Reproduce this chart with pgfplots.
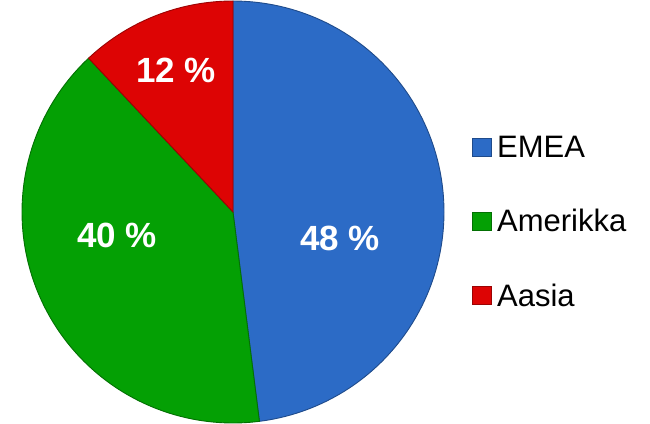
\documentclass[border=0pt]{standalone}
\usepackage{fontspec}
\setmainfont{Liberation Sans}
\usepackage{pgfplots}
\usepackage{pgfplotstable}
\pgfplotsset{compat=1.18}
\definecolor{cBlue}{HTML}{2C6BC6}
\definecolor{cGreen}{HTML}{04A004}
\definecolor{cRed}{HTML}{DD0404}
\pgfplotstableread{
region share
EMEA 48
Amerikka 40
Aasia 12
}\piedata
\begin{document}
\begin{tikzpicture}
\pgfplotstablegetelem{0}{share}\of\piedata \let\sA\pgfplotsretval
\pgfplotstablegetelem{1}{share}\of\piedata \let\sB\pgfplotsretval
\pgfplotstablegetelem{2}{share}\of\piedata \let\sC\pgfplotsretval
\pgfmathsetmacro{\aA}{90}
\pgfmathsetmacro{\aB}{\aA-3.6*\sA}
\pgfmathsetmacro{\aC}{\aB-3.6*\sB}
\pgfmathsetmacro{\aD}{\aC-3.6*\sC}
\begin{axis}[
  scale only axis, width=650pt, height=423pt,
  xmin=0, xmax=650, ymin=0, ymax=423,
  hide axis, clip=true,
  legend style={draw=none, fill=none, at={(axis cs:469,201)}, anchor=west,
    font=\fontsize{31}{31}\selectfont, row sep=46.5pt,
    legend cell align=left,
    nodes={inner xsep=5pt}},
  legend image code/.code={\fill[#1] (0pt,-9pt) rectangle (19pt,9pt);},
]
\addplot[fill=cBlue, draw=cBlue!70!black, line width=0.9pt, domain=\aB:\aA, samples=120, variable=\t]
  ({233+211*cos(\t)},{211+211*sin(\t)}) -- (axis cs:233,211) -- cycle;
\addlegendentry{EMEA}
\addplot[fill=cGreen, draw=cGreen!70!black, line width=0.9pt, domain=\aC:\aB, samples=120, variable=\t]
  ({233+211*cos(\t)},{211+211*sin(\t)}) -- (axis cs:233,211) -- cycle;
\addlegendentry{Amerikka}
\addplot[fill=cRed, draw=cRed!70!black, line width=0.9pt, domain=\aD:\aC, samples=60, variable=\t]
  ({233+211*cos(\t)},{211+211*sin(\t)}) -- (axis cs:233,211) -- cycle;
\addlegendentry{Aasia}
\node[text=white, font=\bfseries\fontsize{35}{35}\selectfont] at (axis cs:340,185) {\sA\ \%};
\node[text=white, font=\bfseries\fontsize{35}{35}\selectfont] at (axis cs:117,188) {\sB\ \%};
\node[text=white, font=\bfseries\fontsize{35}{35}\selectfont] at (axis cs:176,353) {\sC\ \%};
\coordinate (bbl) at (axis cs:0,0);
\coordinate (btr) at (axis cs:650,423);
\end{axis}
\pgfresetboundingbox
\useasboundingbox (bbl) rectangle (btr);
\end{tikzpicture}
\end{document}
